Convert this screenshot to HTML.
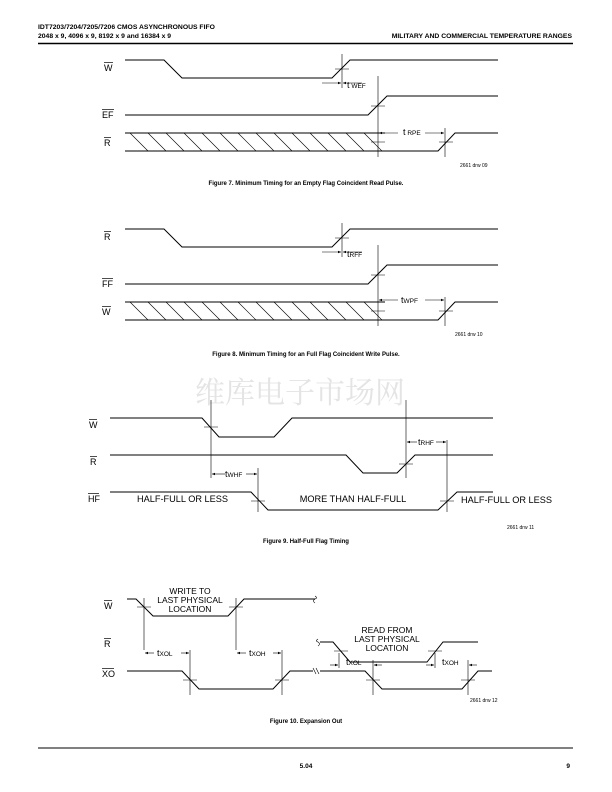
<!DOCTYPE html>
<html><head><meta charset="utf-8"><style>
body{margin:0;background:#fff}
svg{display:block}
text{font-family:"Liberation Sans",Arial,sans-serif;fill:#000}
.l{fill:none;stroke:#000;stroke-width:1}
.t{fill:none;stroke:#000;stroke-width:0.6}
.o{stroke:#000;stroke-width:0.7}
</style></head><body>
<svg width="612" height="792" viewBox="0 0 612 792" xmlns="http://www.w3.org/2000/svg">
<defs>
<marker id="a" markerWidth="6" markerHeight="6" refX="5" refY="3" orient="auto"><path d="M0,1 L5,3 L0,5 Z" fill="#000"/></marker>
</defs>
<text x="38" y="29" font-size="6.8" font-weight="bold">IDT7203/7204/7205/7206 CMOS ASYNCHRONOUS FIFO</text>
<text x="38" y="38" font-size="6.8" font-weight="bold">2048 x 9, 4096 x 9, 8192 x 9 and 16384 x 9</text>
<text x="572" y="38" font-size="6.8" font-weight="bold" text-anchor="end">MILITARY AND COMMERCIAL TEMPERATURE RANGES</text>
<line x1="38" y1="43.5" x2="573" y2="43.5" stroke="#000" stroke-width="1.5"/>

<g>
<path class="l" d="M125,60 H164 L182,78 H332 L350,60 H498"/>
<path class="l" d="M125,115 H368 L387,96 H498"/>
<path class="l" d="M125,133 H385 M385,151 H438 L455,133 H498"/>
<path class="l" d="M125,151 H385"/>
<path class="t" stroke-width="0.9" d="M130,133 l18,18 M148,133 l18,18 M166,133 l18,18 M184,133 l18,18 M202,133 l18,18 M220,133 l18,18 M238,133 l18,18 M256,133 l18,18 M274,133 l18,18 M292,133 l18,18 M310,133 l18,18 M328,133 l18,18 M346,133 l18,18 M364,133 l18,18"/>
<path class="t" d="M342,54 V88 M378,76 V157 M445,128 V157 M335,69 H349 M371,106 H385 M371,142 H385 M439,142 H453"/>
<line class="t" x1="322" y1="83" x2="341" y2="83" marker-end="url(#a)"/>
<line class="t" x1="362" y1="83" x2="343" y2="83" marker-end="url(#a)"/>
<text x="347" y="88" font-size="9">t<tspan font-size="6.5"> WEF</tspan></text>
<line class="t" x1="398" y1="133" x2="379" y2="133" marker-end="url(#a)"/>
<line class="t" x1="425" y1="133" x2="444" y2="133" marker-end="url(#a)"/>
<text x="403" y="135" font-size="9">t<tspan font-size="6.5"> RPE</tspan></text>
</g>
<text x="104" y="71" font-size="9">W</text><line class="o" x1="104" y1="62.5" x2="113" y2="62.5"/>
<text x="102" y="118" font-size="9">EF</text><line class="o" x1="102" y1="109.5" x2="114" y2="109.5"/>
<text x="104" y="146" font-size="9">R</text><line class="o" x1="104" y1="137.5" x2="111" y2="137.5"/>
<text x="460" y="167" font-size="5">2661 drw 09</text>
<text x="306" y="185" font-size="6" font-weight="bold" text-anchor="middle">Figure 7.  Minimum Timing for an Empty Flag Coincident Read Pulse.</text>

<g transform="translate(0,169)">
<path class="l" d="M125,60 H164 L182,78 H332 L350,60 H498"/>
<path class="l" d="M125,115 H368 L387,96 H498"/>
<path class="l" d="M125,133 H385 M385,151 H438 L455,133 H498"/>
<path class="l" d="M125,151 H385"/>
<path class="t" stroke-width="0.9" d="M130,133 l18,18 M148,133 l18,18 M166,133 l18,18 M184,133 l18,18 M202,133 l18,18 M220,133 l18,18 M238,133 l18,18 M256,133 l18,18 M274,133 l18,18 M292,133 l18,18 M310,133 l18,18 M328,133 l18,18 M346,133 l18,18 M364,133 l18,18"/>
<path class="t" d="M342,54 V88 M378,76 V157 M445,128 V157 M335,69 H349 M371,106 H385 M371,142 H385 M439,142 H453"/>
<line class="t" x1="322" y1="83" x2="341" y2="83" marker-end="url(#a)"/>
<line class="t" x1="362" y1="83" x2="343" y2="83" marker-end="url(#a)"/>
<text x="347" y="88" font-size="9">t<tspan font-size="6.5">RFF</tspan></text>
<line class="t" x1="398" y1="131" x2="379" y2="131" marker-end="url(#a)"/>
<line class="t" x1="425" y1="131" x2="444" y2="131" marker-end="url(#a)"/>
<text x="401" y="134" font-size="9">t<tspan font-size="6.5">WPF</tspan></text>
<text x="104" y="71" font-size="9">R</text><line class="o" x1="104" y1="62.5" x2="111" y2="62.5"/>
<text x="102" y="118" font-size="9">FF</text><line class="o" x1="102" y1="109.5" x2="113" y2="109.5"/>
<text x="102" y="146" font-size="9">W</text><line class="o" x1="102" y1="137.5" x2="111" y2="137.5"/>
<text x="455" y="167" font-size="5">2661 drw 10</text>
</g>
<text x="306" y="356" font-size="6" font-weight="bold" text-anchor="middle">Figure 8.  Minimum Timing for an Full Flag Coincident Write Pulse.</text>

<text x="300" y="403" font-size="30" text-anchor="middle" style="fill:#e4e4e4;font-family:'Noto Serif CJK SC','Noto Sans CJK SC',serif">维库电子市场网</text>

<path class="l" d="M110,418 H202 L219,437 H274 L292,418 H493"/>
<path class="l" d="M110,455 H346 L363,473 H397 L415,455 H493"/>
<path class="l" d="M110,492 H251 L268,510 H438 L457,492 H493"/>
<path class="t" d="M211,400 V478 M406,400 V478 M447,440 V512 M258,468 V512 M204,427 H218 M399,464 H413 M251,501 H265 M440,501 H454"/>
<line class="t" x1="225" y1="474" x2="212" y2="474" marker-end="url(#a)"/>
<line class="t" x1="246" y1="474" x2="257" y2="474" marker-end="url(#a)"/>
<text x="225" y="477" font-size="9">t<tspan font-size="6.5">WHF</tspan></text>
<line class="t" x1="417" y1="442" x2="407" y2="442" marker-end="url(#a)"/>
<line class="t" x1="436" y1="442" x2="446" y2="442" marker-end="url(#a)"/>
<text x="418" y="445" font-size="9">t<tspan font-size="6.5">RHF</tspan></text>
<text x="137" y="502" font-size="9.2">HALF-FULL OR LESS</text>
<text x="353" y="502" font-size="9.2" text-anchor="middle">MORE THAN HALF-FULL</text>
<text x="461" y="503" font-size="9.2">HALF-FULL OR LESS</text>
<text x="89" y="428" font-size="9">W</text><line class="o" x1="89" y1="419.5" x2="97" y2="419.5"/>
<text x="90" y="465" font-size="9">R</text><line class="o" x1="90" y1="456.5" x2="97" y2="456.5"/>
<text x="88" y="502" font-size="9">HF</text><line class="o" x1="88" y1="493.5" x2="99" y2="493.5"/>
<text x="507" y="529" font-size="5">2661 drw 11</text>
<text x="306" y="543" font-size="6" font-weight="bold" text-anchor="middle">Figure 9.  Half-Full Flag Timing</text>

<path class="l" d="M127,599 H136 L153,616 H228 L244,599 H315"/>
<path class="t" d="M315,596 q3,2 0,3 q-3,2 0,4"/>
<path class="t" d="M318,639 q-3,2 0,3 q3,2 0,4"/>
<path class="l" d="M320,642 H333 L350,662 H427 L443,642 H478"/>
<path class="l" d="M127,671 H182 L199,689 H273 L290,671 H313 M320,671 H365 L382,689 H462 L478,671 H492"/>
<path class="t" d="M313,668 l3,6 M316,668 l3,6"/>
<path class="t" d="M144,598 V650 M236,598 V650 M190,650 V695 M282,650 V695 M339,653 V668 M435,653 V668 M373,660 V695 M468,660 V695 M137,607 H151 M229,607 H243 M334,651 H348 M428,651 H442 M183,680 H197 M275,680 H289 M366,680 H380 M461,680 H475"/>
<text x="190" y="594" font-size="8.5" text-anchor="middle">WRITE TO</text>
<text x="190" y="603" font-size="8.5" text-anchor="middle">LAST PHYSICAL</text>
<text x="190" y="612" font-size="8.5" text-anchor="middle">LOCATION</text>
<text x="387" y="633" font-size="8.5" text-anchor="middle">READ FROM</text>
<text x="387" y="642" font-size="8.5" text-anchor="middle">LAST PHYSICAL</text>
<text x="387" y="651" font-size="8.5" text-anchor="middle">LOCATION</text>
<line class="t" x1="154" y1="653" x2="145" y2="653" marker-end="url(#a)"/>
<line class="t" x1="181" y1="653" x2="189" y2="653" marker-end="url(#a)"/>
<text x="157" y="656" font-size="9">t<tspan font-size="6.5">XOL</tspan></text>
<line class="t" x1="246" y1="653" x2="237" y2="653" marker-end="url(#a)"/>
<line class="t" x1="273" y1="653" x2="281" y2="653" marker-end="url(#a)"/>
<text x="249" y="656" font-size="9">t<tspan font-size="6.5">XOH</tspan></text>
<line class="t" x1="330" y1="665" x2="338" y2="665" marker-end="url(#a)"/>
<line class="t" x1="382" y1="665" x2="374" y2="665" marker-end="url(#a)"/>
<text x="346" y="665" font-size="9">t<tspan font-size="6.5">XOL</tspan></text>
<line class="t" x1="426" y1="665" x2="434" y2="665" marker-end="url(#a)"/>
<line class="t" x1="477" y1="665" x2="469" y2="665" marker-end="url(#a)"/>
<text x="442" y="665" font-size="9">t<tspan font-size="6.5">XOH</tspan></text>
<text x="104" y="609" font-size="9">W</text><line class="o" x1="104" y1="600.5" x2="112" y2="600.5"/>
<text x="104" y="647" font-size="9">R</text><line class="o" x1="104" y1="638.5" x2="111" y2="638.5"/>
<text x="102" y="677" font-size="9">XO</text><line class="o" x1="102" y1="668.5" x2="114" y2="668.5"/>
<text x="470" y="702" font-size="5">2661 drw 12</text>
<text x="306" y="723" font-size="6" font-weight="bold" text-anchor="middle">Figure 10.  Expansion Out</text>

<line x1="38" y1="748" x2="573" y2="748" stroke="#000" stroke-width="1"/>
<text x="306" y="768" font-size="6.5" font-weight="bold" text-anchor="middle">5.04</text>
<text x="570" y="768" font-size="6.5" font-weight="bold" text-anchor="end">9</text>
</svg>
</body></html>
